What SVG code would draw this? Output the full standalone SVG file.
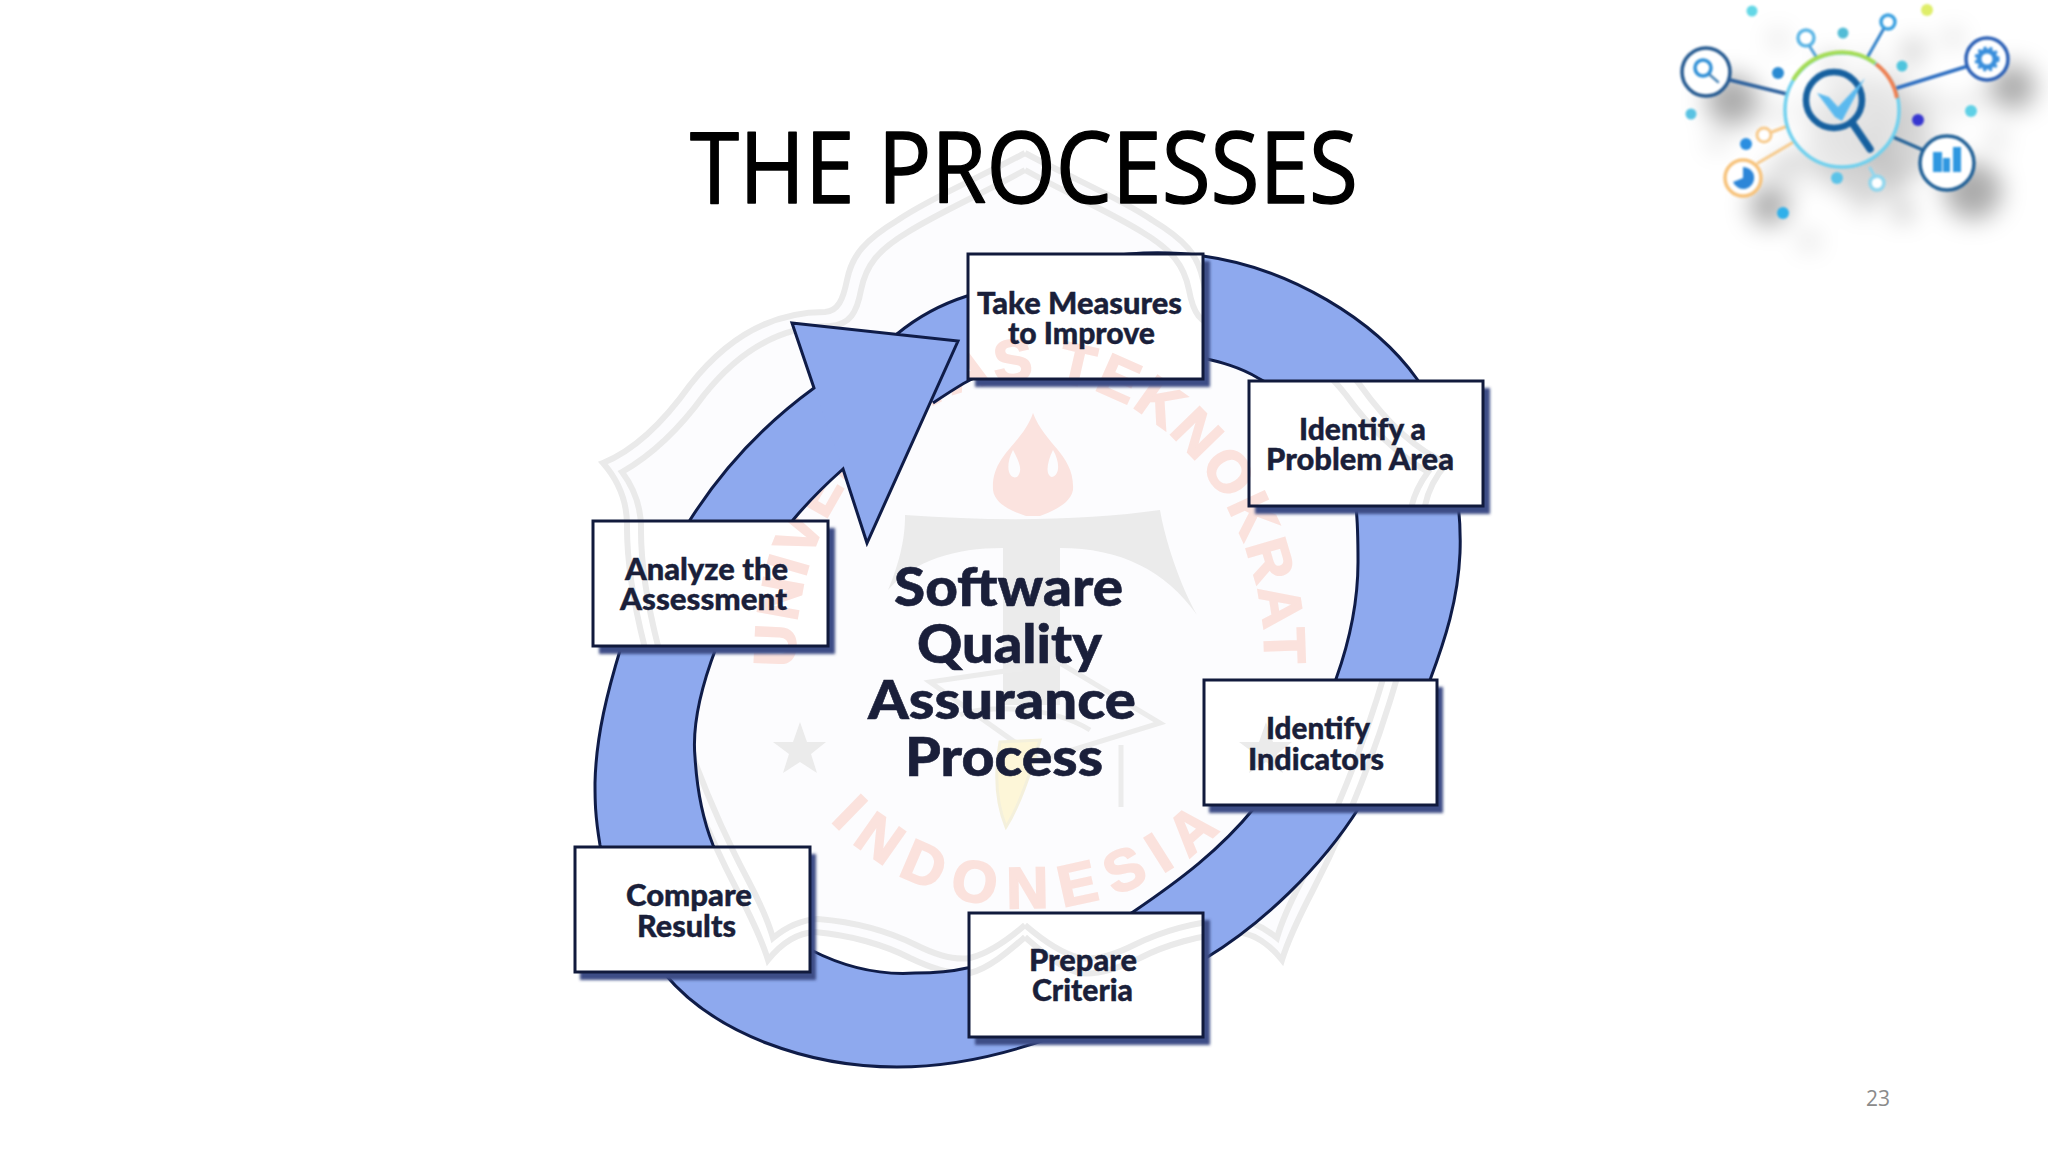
<svg xmlns="http://www.w3.org/2000/svg" xmlns:xlink="http://www.w3.org/1999/xlink" width="2048" height="1152" viewBox="0 0 2048 1152">
<style>
.b{fill:#fff}
.sh{fill:#3d4d86}
.t{font-family:"Lato","Inter","Liberation Sans",sans-serif;font-weight:900;font-size:30px;fill:#1a1f3a;stroke:#1a1f3a;stroke-width:.4}
.c{font-family:"Lato","Inter","Liberation Sans",sans-serif;font-weight:900;font-size:53px;fill:#1a1f3a;stroke:#1a1f3a;stroke-width:.6}
.w{font-family:"Liberation Sans",sans-serif;font-weight:700;font-size:58px;fill:#fbe2dd;stroke:#fbe2dd;stroke-width:2;text-anchor:middle}
.sl{fill:none;stroke:#eaeaea;stroke-width:6}
.wg{fill:#ebebeb}
.l{fill:none;stroke-linecap:round}
</style>
<defs>
<filter id="sblur" x="-5%" y="-5%" width="115%" height="120%"><feGaussianBlur stdDeviation="1.4"/></filter>
<filter id="logo" x="-20%" y="-20%" width="150%" height="150%" color-interpolation-filters="sRGB">
<feGaussianBlur in="SourceGraphic" stdDeviation="0.9" result="s"/>
<feGaussianBlur in="SourceAlpha" stdDeviation="12" result="a"/>
<feOffset in="a" dx="26" dy="28" result="o"/>
<feFlood flood-color="#000" flood-opacity="0.33"/><feComposite in2="o" operator="in" result="d"/>
<feMerge><feMergeNode in="d"/><feMergeNode in="s"/></feMerge>
</filter>
<path id="halfFill" d="M1025 153C975 180 930 198 898 220C865 240 852 255 847 280C843 300 838 311 825 312C770 312 725 340 690 385C665 420 635 450 603 463C618 480 627 500 627 525C626 620 680 780 737 890C750 915 762 940 768 960C780 945 795 933 815 932C850 935 885 945 910 958C935 970 955 975 970 973C990 968 1010 950 1025 937Z"/>
<path id="half1" d="M1025 153C975 180 930 198 898 220C865 240 852 255 847 280C843 300 838 311 825 312C770 312 725 340 690 385C665 420 635 450 603 463C618 480 627 500 627 525C626 620 680 780 737 890C750 915 762 940 768 960C780 945 795 933 815 932C850 935 885 945 910 958C935 970 955 975 970 973C990 968 1010 950 1025 937"/>
<path id="half2" d="M1025 170C980 195 940 212 908 232C878 250 866 265 861 290C857 312 850 325 830 326C780 326 738 352 704 395C680 428 652 455 622 472C634 488 641 505 641 528C640 620 692 775 749 882C760 903 768 920 773 938C785 928 800 920 818 919C855 922 890 932 916 945C940 957 958 960 970 958C990 953 1010 938 1025 925"/>
<path id="arcTop" d="M800.5 720A235 280 0 1 1 1259.5 720"/>
<path id="arcBot" d="M760 640A270 268 0 0 0 1300 640"/>
<g id="mark">
<path fill="#fbe3df" d="M1033 413C1045 445 1075 455 1073 490C1070 505 1050 512 1040 516H1026C1014 512 995 505 993 490C991 455 1022 445 1033 413ZM1013 450C1005 465 1008 480 1017 477C1024 470 1018 460 1013 450ZM1053 450C1047 462 1045 475 1052 477C1060 475 1060 462 1053 450Z" fill-rule="evenodd"/>
<path class="wg" d="M888 590C905 550 905 525 905 515C1000 522 1090 520 1160 510C1165 540 1180 585 1197 615C1165 570 1120 548 1060 548V705H1003V548C955 548 915 560 888 590Z"/>
<path fill="none" stroke="#ececec" stroke-width="5" d="M930 682L1060 663L1160 723L1040 760L930 682ZM960 715C985 705 1050 705 1090 730M1121 745V807"/>
<path fill="#fdf6d8" stroke="#f4f0dc" stroke-width="3" d="M1000 742L1040 740C1030 775 1020 805 1006 827C995 800 995 770 1000 742Z"/>
<polygon class="wg" points="800,722 807,742 826,742 811,754 817,773 800,762 783,773 789,754 773,742 793,742"/>
<polygon class="wg" points="1266,722 1273,742 1292,742 1277,754 1283,773 1266,762 1249,773 1255,754 1239,742 1259,742"/>
<text class="w" letter-spacing="3"><textPath href="#arcTop" xlink:href="#arcTop" startOffset="50%">UNIVERSITAS TEKNOKRAT</textPath></text>
<text class="w" letter-spacing="14"><textPath href="#arcBot" xlink:href="#arcBot" startOffset="50%">INDONESIA</textPath></text>
</g>
<path id="ring" d="M897 334C920 315 945 303 967 296C1050 262 1130 245 1203 256C1290 268 1375 320 1417 379C1450 430 1462 500 1460 553C1458 600 1445 640 1430 680C1410 735 1385 770 1360 806C1320 870 1260 925 1206 958C1160 1000 1100 1022 1050 1038C1000 1056 950 1067 897 1067C810 1067 715 1035 664 973C630 930 610 890 600 845C595 815 595 800 595 783C596 735 608 690 621 647C640 600 665 560 690 520C725 465 770 420 814 388L792 323L958 341L867 543L843 469C825 485 808 502 793 520C765 550 730 600 716 648C700 690 692 725 695 757C697 790 703 820 713 845C735 895 770 930 811 950C850 970 885 975 915 973C935 973 950 972 967 968C1040 960 1090 940 1133 912C1180 880 1220 850 1255 807C1295 760 1325 715 1336 679C1350 640 1358 600 1358 562C1358 540 1358 525 1356 507C1350 450 1310 405 1258 378C1240 367 1220 362 1203 358C1120 340 1030 350 970 380C960 385 945 395 933 403"/>
<clipPath id="boxes">
<rect x="968" y="254" width="235" height="125"/><rect x="1249" y="381" width="234" height="125"/><rect x="593" y="521" width="235" height="125"/><rect x="1204" y="680" width="233" height="125"/><rect x="969" y="913" width="234" height="124"/><rect x="575" y="847" width="235" height="125"/>
</clipPath>
</defs>
<rect width="2048" height="1152" fill="#fff"/>
<g id="watermark">
<use href="#halfFill" xlink:href="#halfFill" fill="#fcfcfe"/>
<use href="#halfFill" xlink:href="#halfFill" fill="#fcfcfe" transform="translate(2050,0) scale(-1,1)"/>
<use href="#half1" xlink:href="#half1" class="sl"/><use href="#half2" xlink:href="#half2" class="sl"/>
<g transform="translate(2050,0) scale(-1,1)"><use href="#half1" xlink:href="#half1" class="sl"/><use href="#half2" xlink:href="#half2" class="sl"/></g>
<use href="#mark" xlink:href="#mark"/>
</g>
<text id="title" x="690" y="203" font-family="'Open Sans','Noto Sans',sans-serif" font-size="98" fill="#000" stroke="#000" stroke-width="1.4" stroke-linejoin="round" textLength="668" lengthAdjust="spacingAndGlyphs">THE PROCESSES</text>
<g id="connectors">
<use href="#ring" xlink:href="#ring" fill="#8ea9ee"/>
<polygon points="792,323 958,341 867,543 843,469 814,388" fill="#8ea9ee"/>
<use href="#ring" xlink:href="#ring" fill="none" stroke="#0f1c48" stroke-width="3" stroke-linejoin="miter"/>
</g>
<g id="shadows" filter="url(#sblur)">
<rect class="sh" x="975" y="261" width="235" height="126"/><rect class="sh" x="1255" y="388" width="235" height="126"/><rect class="sh" x="599" y="528" width="236" height="126"/><rect class="sh" x="1209" y="687" width="234" height="126"/><rect class="sh" x="975" y="920" width="235" height="125"/><rect class="sh" x="580" y="854" width="236" height="126"/>
</g>
<g id="n1"><rect class="b" x="968" y="254" width="235" height="125"/></g>
<g id="n2"><rect class="b" x="1249" y="381" width="234" height="125"/></g>
<g id="n3"><rect class="b" x="593" y="521" width="235" height="125"/></g>
<g id="n4"><rect class="b" x="1204" y="680" width="233" height="125"/></g>
<g id="n5"><rect class="b" x="969" y="913" width="234" height="124"/></g>
<g id="n6"><rect class="b" x="575" y="847" width="235" height="125"/></g>
<g clip-path="url(#boxes)">
<use href="#half1" xlink:href="#half1" class="sl"/><use href="#half2" xlink:href="#half2" class="sl"/>
<g transform="translate(2050,0) scale(-1,1)"><use href="#half1" xlink:href="#half1" class="sl"/><use href="#half2" xlink:href="#half2" class="sl"/></g>
<use href="#mark" xlink:href="#mark"/>
</g>
<g id="boxframes" fill="none" stroke="#111a3c" stroke-width="3">
<rect x="968" y="254" width="235" height="125"/><rect x="1249" y="381" width="234" height="125"/><rect x="593" y="521" width="235" height="125"/><rect x="1204" y="680" width="233" height="125"/><rect x="969" y="913" width="234" height="124"/><rect x="575" y="847" width="235" height="125"/>
</g>
<g id="labels">
<text class="t" x="977" y="314" textLength="205" lengthAdjust="spacingAndGlyphs">Take Measures</text>
<text class="t" x="1008" y="344" textLength="147" lengthAdjust="spacingAndGlyphs">to Improve</text>
<text class="t" x="1299" y="440" textLength="127" lengthAdjust="spacingAndGlyphs">Identify a</text>
<text class="t" x="1266" y="470" textLength="188" lengthAdjust="spacingAndGlyphs">Problem Area</text>
<text class="t" x="625" y="580" textLength="163" lengthAdjust="spacingAndGlyphs">Analyze the</text>
<text class="t" x="620" y="610" textLength="167" lengthAdjust="spacingAndGlyphs">Assessment</text>
<text class="t" x="1266" y="739" textLength="104" lengthAdjust="spacingAndGlyphs">Identify</text>
<text class="t" x="1248" y="770" textLength="136" lengthAdjust="spacingAndGlyphs">Indicators</text>
<text class="t" x="626" y="906" textLength="126" lengthAdjust="spacingAndGlyphs">Compare</text>
<text class="t" x="637" y="937" textLength="99" lengthAdjust="spacingAndGlyphs">Results</text>
<text class="t" x="1029" y="971" textLength="108" lengthAdjust="spacingAndGlyphs">Prepare</text>
<text class="t" x="1032" y="1001" textLength="101" lengthAdjust="spacingAndGlyphs">Criteria</text>
<text class="c" x="894" y="606" textLength="229" lengthAdjust="spacingAndGlyphs">Software</text>
<text class="c" x="917" y="663" textLength="185" lengthAdjust="spacingAndGlyphs">Quality</text>
<text class="c" x="868" y="719" textLength="268" lengthAdjust="spacingAndGlyphs">Assurance</text>
<text class="c" x="905" y="776" textLength="198" lengthAdjust="spacingAndGlyphs">Process</text>
</g>
<text id="pagenum" x="1878" y="1106" font-family="'Open Sans','Noto Sans',sans-serif" font-size="21" fill="#8b8b8b" text-anchor="middle">23</text>
<g id="logoart" filter="url(#logo)">
<circle cx="1706" cy="72" r="24" fill="#fff" stroke="#23588f" stroke-width="3.5"/>
<circle cx="1703" cy="68" r="8" fill="none" stroke="#2f8fd6" stroke-width="3.5"/><path class="l" d="M1710 75L1718 82" stroke="#4b86b8" stroke-width="2.5"/>
<path class="l" d="M1730 80L1787 94" stroke="#2a5f9c" stroke-width="3.5"/>
<circle cx="1987" cy="59" r="21" fill="#fff" stroke="#2a5fb5" stroke-width="3.5"/>
<circle cx="1987" cy="59" r="8" fill="none" stroke="#3a8fdc" stroke-width="5"/>
<circle cx="1987" cy="59" r="11" fill="none" stroke="#3a8fdc" stroke-width="3" stroke-dasharray="3 3"/>
<path class="l" d="M1965 67L1897 88" stroke="#2a6cc0" stroke-width="3.5"/>
<circle cx="1888" cy="22" r="7" fill="#fff" stroke="#3aa0e0" stroke-width="3.5"/><path class="l" d="M1883 30L1867 58" stroke="#2f80c8" stroke-width="3"/>
<circle cx="1806" cy="38" r="8" fill="#fff" stroke="#5bb5e5" stroke-width="3.5"/><path class="l" d="M1810 47L1817 58" stroke="#4fa0d8" stroke-width="3"/>
<circle cx="1947" cy="163" r="27" fill="#fff" stroke="#1f5f96" stroke-width="3.5"/>
<path class="l" d="M1893 137L1923 150" stroke="#1f5f96" stroke-width="3"/>
<path fill="#2f97e0" d="M1933 152h9v20h-9zM1943 158h7v14h-7zM1953 147h8v25h-8z"/>
<circle cx="1743" cy="178" r="18" fill="#fff" stroke="#f7c27a" stroke-width="3.5"/><path d="M1743 167A11 11 0 1 1 1733 182L1743 178Z" fill="#2d86d8"/>
<path class="l" d="M1758 163L1792 143" stroke="#f6c98a" stroke-width="3"/>
<circle cx="1764" cy="135" r="7" fill="#fff" stroke="#f7c98a" stroke-width="3"/><path class="l" d="M1772 132L1785 127" stroke="#f7c98a" stroke-width="3"/>
<circle cx="1877" cy="183" r="7" fill="#fff" stroke="#8fd6ee" stroke-width="3.5"/><path class="l" d="M1870 168L1875 177" stroke="#8fd6ee" stroke-width="3"/>
<circle cx="1842" cy="110" r="57" fill="#fff" fill-opacity="0.5" stroke="#6fd0ee" stroke-width="3.5"/>
<path fill="none" stroke="#a4dc55" stroke-width="4" d="M1793 80A57 57 0 0 1 1875 63"/>
<path fill="none" stroke="#ef7f50" stroke-width="4" d="M1876 64A57 57 0 0 1 1897 98"/>
<circle cx="1834" cy="100" r="28" fill="none" stroke="#16609f" stroke-width="6.5"/>
<path class="l" d="M1853 124L1870 149" stroke="#16609f" stroke-width="7.5"/>
<path fill="#5bb9ee" d="M1817 93L1829 97L1838 107L1865 78L1842 121L1835 117Z"/>
<circle cx="1752" cy="11" r="5.5" fill="#63d7e6"/><circle cx="1927" cy="10" r="6" fill="#dfee6a"/><circle cx="1843" cy="33" r="5.5" fill="#52bcd6"/><circle cx="1902" cy="66" r="5.5" fill="#4fc4dd"/><circle cx="1778" cy="73" r="6" fill="#2a8ad2"/><circle cx="1691" cy="114" r="5.5" fill="#58c2e2"/><circle cx="1971" cy="111" r="6" fill="#5fd0e6"/><circle cx="1918" cy="120" r="6" fill="#3535d0"/><circle cx="1746" cy="144" r="6" fill="#2a8ee0"/><circle cx="1837" cy="178" r="6" fill="#5bc3e8"/><circle cx="1783" cy="213" r="6" fill="#2fb0ea"/>
</g>
</svg>
